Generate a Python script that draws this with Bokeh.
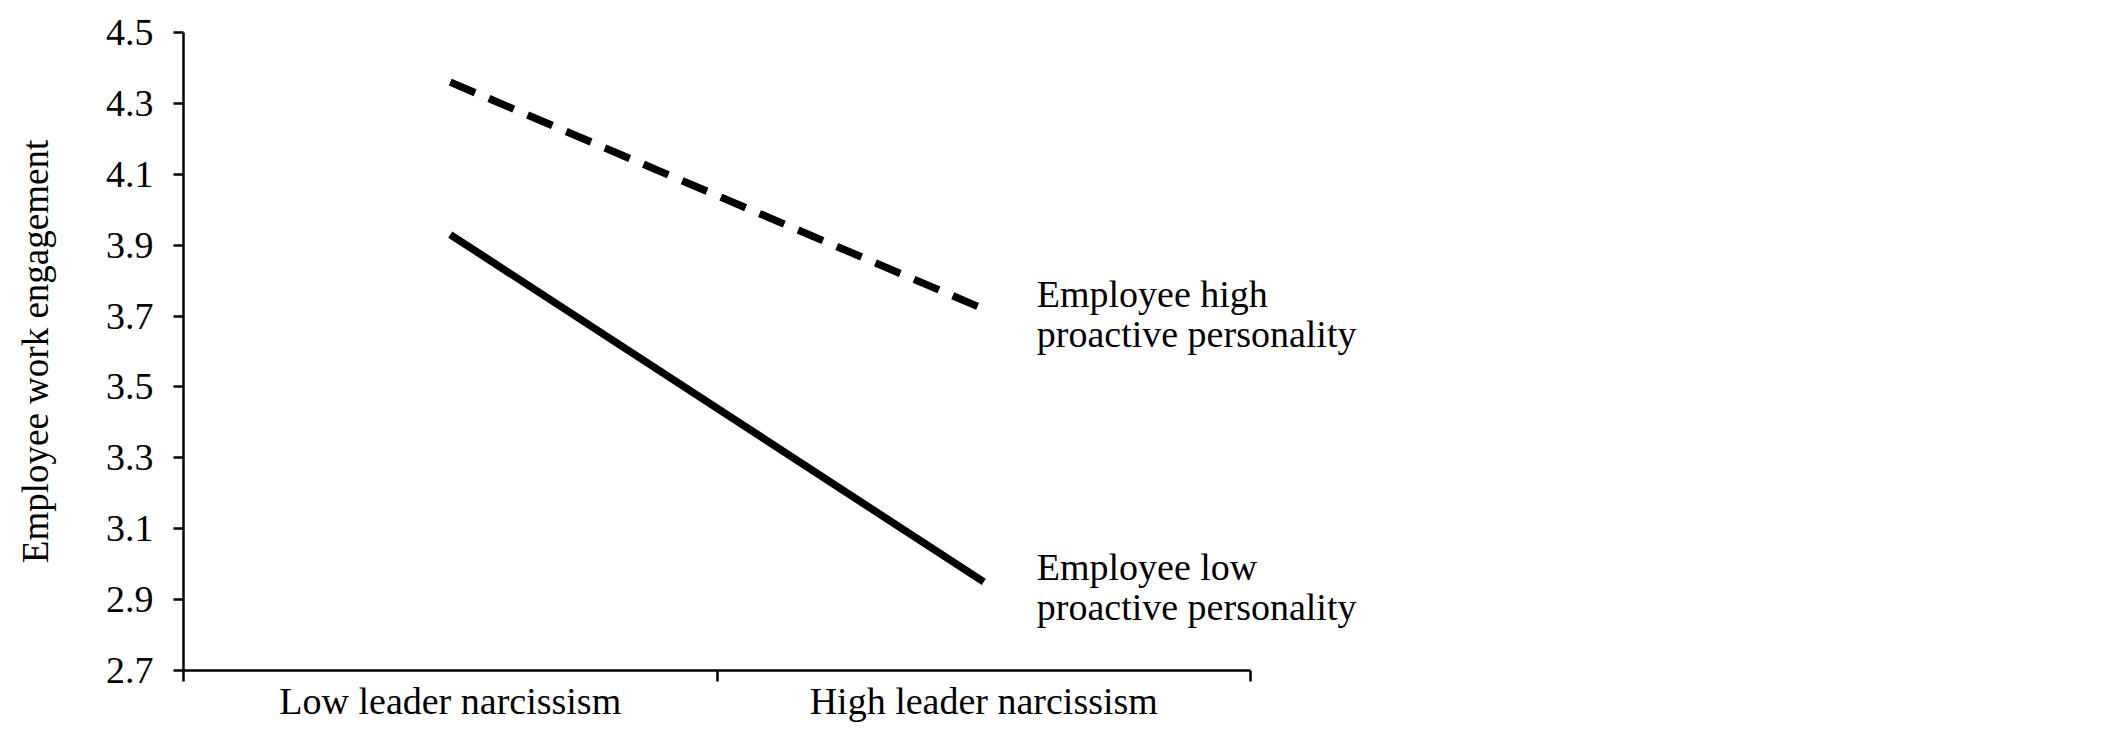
from bokeh.plotting import figure
from bokeh.models import Range1d, FixedTicker, Label
from bokeh.embed import file_html
from bokeh.resources import INLINE

# ---- data ----
categories = ["Low leader narcissism", "High leader narcissism"]
high_proactive = [4.36, 3.72]
low_proactive = [3.93, 2.95]
series_labels = ["Employee high\nproactive personality", "Employee low\nproactive personality"]
y_ticks = [2.7, 2.9, 3.1, 3.3, 3.5, 3.7, 3.9, 4.1, 4.3, 4.5]
y_tick_labels = ["2.7", "2.9", "3.1", "3.3", "3.5", "3.7", "3.9", "4.1", "4.3", "4.5"]
y_label = "Employee work engagement"

FONT = "Liberation Serif"
FS = "38px"

n = len(categories)
x_centers = [i + 0.5 for i in range(n)]
x_bounds = [i for i in range(n + 1)]

# frame: axis part is 183..1250 px; frame extended to 1450 px so end labels are not clipped
LEFT, AXIS_RIGHT, FRAME_RIGHT = 183, 1250, 1450
x_end = n * (FRAME_RIGHT - LEFT) / (AXIS_RIGHT - LEFT)

p = figure(width=2126, height=732, output_backend="svg", toolbar_location=None,
           x_range=Range1d(0, x_end), y_range=Range1d(y_ticks[0], y_ticks[-1]),
           min_border_left=LEFT, min_border_right=2126 - FRAME_RIGHT,
           min_border_top=32, min_border_bottom=62)
p.outline_line_color = None
p.xgrid.visible = False
p.ygrid.visible = False
p.background_fill_color = "white"
p.border_fill_color = "white"

# y axis
ya = p.yaxis[0]
ya.ticker = FixedTicker(ticks=y_ticks)
ya.major_label_overrides = {t: l for t, l in zip(y_ticks, y_tick_labels)}
ya.axis_line_width = 2.5
ya.axis_line_color = "black"
ya.major_tick_line_width = 2.5
ya.major_tick_line_color = "black"
ya.major_tick_out = 10
ya.major_tick_in = 0
ya.minor_tick_line_color = None
ya.major_label_text_font = FONT
ya.major_label_text_font_size = FS
ya.major_label_text_color = "black"
ya.major_label_standoff = 20
ya.axis_label = y_label
ya.axis_label_text_font = FONT
ya.axis_label_text_font_size = "37px"
ya.axis_label_text_font_style = "normal"
ya.axis_label_text_color = "black"
ya.axis_label_standoff = 47

# x axis
xa = p.xaxis[0]
xa.bounds = (0, n)
xa.ticker = FixedTicker(ticks=x_centers, minor_ticks=x_bounds)
xa.major_label_overrides = {c: nm for c, nm in zip(x_centers, categories)}
xa.axis_line_width = 2.5
xa.axis_line_color = "black"
xa.major_tick_line_color = None
xa.major_tick_out = 0
xa.major_tick_in = 0
xa.minor_tick_line_color = "black"
xa.minor_tick_line_width = 2.5
xa.minor_tick_out = 11
xa.minor_tick_in = 0
xa.major_label_text_font = FONT
xa.major_label_text_font_size = FS
xa.major_label_text_color = "black"
xa.major_label_standoff = -2

# lines
p.line(x_centers, high_proactive, line_width=7.5, line_color="black", line_dash="27 15", line_cap="butt")
p.line(x_centers, low_proactive, line_width=7.5, line_color="black", line_cap="butt")

# end labels
for yv, txt, off in zip([high_proactive[-1], low_proactive[-1]], series_labels, [-5, -5]):
    p.add_layout(Label(x=x_centers[-1], y=yv, text=txt, x_offset=53, y_offset=off,
                       text_font=FONT, text_font_size=FS, text_color="black",
                       text_align="left", text_baseline="middle", text_line_height=0.95))

open("out.html", "w").write(file_html(p, INLINE))
